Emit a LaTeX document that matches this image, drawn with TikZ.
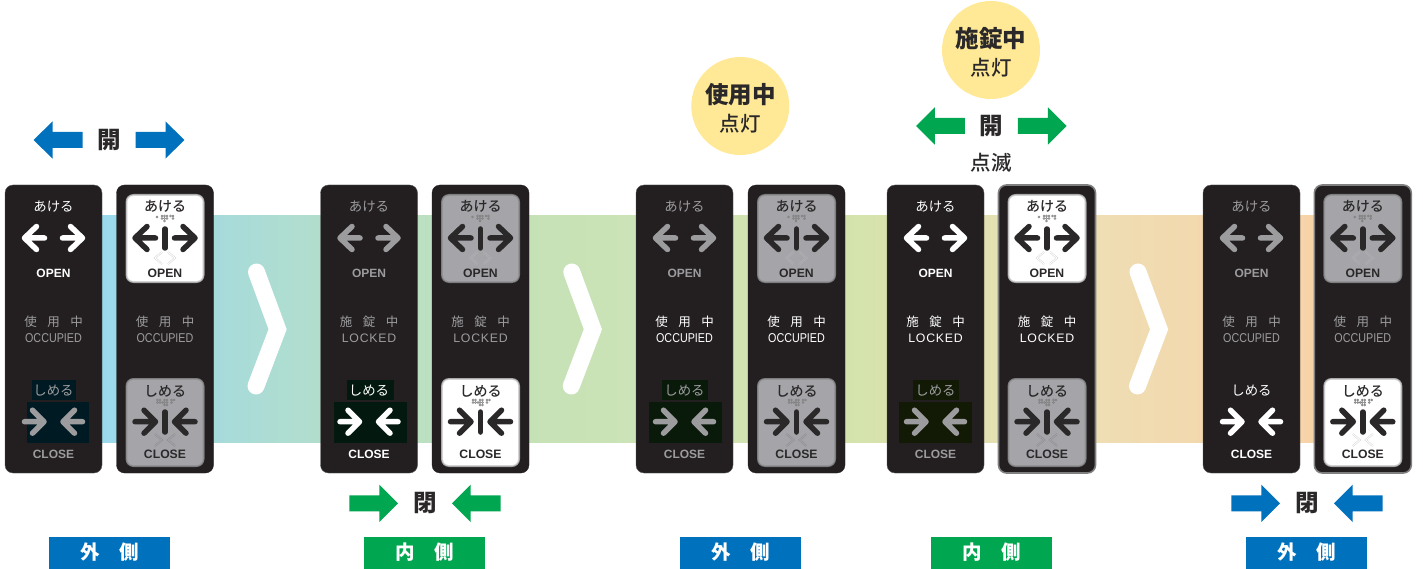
\documentclass[tikz,border=0pt]{standalone}
\usepackage{fontspec}
\setmainfont{Liberation Sans}
\newfontfamily\cjk{Noto Sans CJK JP}
\newfontfamily\cjkm{Noto Sans CJK JP Medium}
\newfontfamily\occfont[FakeStretch=0.84]{Liberation Sans}
\newfontfamily\lockfont[LetterSpace=6]{Liberation Sans}
\definecolor{panelc}{HTML}{231F20}
\definecolor{dimc}{HTML}{9C9C9E}
\definecolor{inkc}{HTML}{2B2829}
\definecolor{blueb}{HTML}{0071BC}
\definecolor{greenb}{HTML}{00A650}
\definecolor{yellowc}{HTML}{FFE997}
\definecolor{lit0}{HTML}{A0A0A0}\definecolor{lit1}{HTML}{BEBEBE}\definecolor{lit2}{HTML}{E0E0E0}\definecolor{lit3}{HTML}{FFFFFF}
\definecolor{dim0}{HTML}{77777A}\definecolor{dim1}{HTML}{8A8A8C}\definecolor{dim2}{HTML}{9A9A9D}\definecolor{dim3}{HTML}{A5A5A9}
\definecolor{chevlit}{HTML}{D2D2D2}\definecolor{chevdim}{HTML}{B6B6BA}
\definecolor{rectA}{HTML}{001A24}\definecolor{rectB}{HTML}{03190F}\definecolor{rectC}{HTML}{0A1A0A}\definecolor{rectD}{HTML}{121A05}
\definecolor{b0}{HTML}{9AD9EC}\definecolor{b1}{HTML}{B0DDCF}\definecolor{b2}{HTML}{C5E2B6}\definecolor{b3}{HTML}{CCE3B6}
\definecolor{b4}{HTML}{D4E3AC}\definecolor{b5}{HTML}{E2E0B2}\definecolor{b6}{HTML}{EFDDB3}\definecolor{b7}{HTML}{F7D3A8}
\pgfdeclarehorizontalshading{bandshade}{100bp}{color(0bp)=(b0);color(25bp)=(b0);color(33.17bp)=(b1);color(42.66bp)=(b2);color(47.2bp)=(b3);color(55.86bp)=(b4);color(61.42bp)=(b5);color(66.17bp)=(b6);color(75bp)=(b7);color(100bp)=(b7)}
\tikzset{
  txt/.style={inner sep=0pt,outer sep=0pt,anchor=center},
  jp/.style={txt,font=\cjk\fontsize{13.4}{13.4}\selectfont},
  jpb/.style={txt,font=\cjkm\fontsize{14}{14}\selectfont,text=inkc},
  lat/.style={txt,font=\bfseries\fontsize{12}{12}\selectfont},
  latb/.style={txt,font=\bfseries\fontsize{12.2}{12.2}\selectfont,text=inkc},
  midjpst/.style={txt,font=\cjk\fontsize{12.5}{12.5}\selectfont},
  panelst/.style={fill=panelc,rounded corners=8pt},
  sig/.style={line width=5.5pt,line cap=round,line join=round},
  badge/.style={txt,font=\cjk\bfseries\fontsize{19.5}{19.5}\selectfont,text=white},
  bigch/.style={draw=white,line width=17pt,line cap=round,line join=miter,miter limit=10},
  headtxt/.style={txt,font=\cjk\bfseries\fontsize{23.5}{23.5}\selectfont,text=inkc},
  subtxt/.style={txt,font=\cjkm\fontsize{20.5}{20.5}\selectfont,text=inkc},
  doortxt/.style={txt,font=\cjk\bfseries\fontsize{23.5}{23.5}\selectfont,text=inkc},
  braille/.style={draw=#1,line width=0.6pt},
  winchev/.style={double=#1,line width=0.45pt,double distance=0.9pt,line join=miter},
  plainedge/.style={draw=panelc,line width=0.3pt},
  greyedge/.style={draw=gray,line width=1.6pt},
}
\newcommand{\occtxt}{{\occfont\fontsize{12.8}{12.8}\selectfont OCCUPIED}}
\newcommand{\locktxt}{{\lockfont\fontsize{12.3}{12.3}\selectfont LOCKED}}
\newcommand{\usejp}{使\hspace{10.5pt}用\hspace{10.5pt}中}
\newcommand{\sejp}{施\hspace{10.5pt}錠\hspace{10.5pt}中}
% arrows for the plain panel, relative to centre 48.5
\newcommand{\openarrows}[1]{%
  \draw[sig,#1] (19.5,238)--(39.5,238) (31.5,226.5)--(19.5,238)--(31.5,249.5);
  \draw[sig,#1] (77.5,238)--(57.5,238) (65.5,226.5)--(77.5,238)--(65.5,249.5);}
\newcommand{\closearrows}[1]{%
  \draw[sig,#1] (19.5,421.7)--(39,421.7) (27.5,410.2)--(39,421.7)--(27.5,433.2);
  \draw[sig,#1] (77.5,421.7)--(58,421.7) (69.5,410.2)--(58,421.7)--(69.5,433.2);}
\newcommand{\windowbox}[3]{% state, top, bottom
  \foreach \n/\i in {0/0,1/0.7,2/1.4,3/2.1}{
    \fill[fill=#1\n,rounded corners={8pt-\i pt}] (9+\i,#2+\i) rectangle (88-\i,#3-\i);}}
\newcommand{\brailledots}[2]{\foreach \a/\b in {#2}{\draw[braille=#1] (\a,\b) circle (0.95pt);}}
\newcommand{\leftpanel}[8]{% name x openc midjp miden midc closec rects
 \begin{scope}[shift={(#2,0)}]
  \fill[panelst,draw=gray!60!panelc,line width=0.4pt] (0,185) rectangle (97,473);
  #8
  \node[jp,text=#3] (#1-aj) at (48.5,206.7) {あける};
  \openarrows{draw=#3}
  \node[lat,text=#3] (#1-open) at (48.5,273.3) {OPEN};
  \node[midjpst,text=#6] (#1-mj) at (48.5,321.7) {#4};
  \node[txt,text=#6] (#1-me) at (48.5,338.3) {#5};
  \node[jp,text=#7] (#1-sj) at (48.5,391) {しめる};
  \closearrows{draw=#7}
  \node[lat,text=#7] (#1-close) at (48.5,454.3) {CLOSE};
 \end{scope}}
\newcommand{\darkrects}[5]{%
  \fill[#1] (#2,380) rectangle (#3,400);
  \fill[#1] (#4,402) rectangle (#5,443);}
\newcommand{\rightpanel}[9]{% name x open-state midjp miden midc close-state close chevron colour edge style
 \begin{scope}[shift={(#2,0)}]
  \fill[panelst,#9] (0,185) rectangle (97,473);
  \windowbox{#3}{194}{283}
  \windowbox{#7}{378}{467}
  \node[jpb] (#1-aj) at (48.5,206.7) {あける};
  \brailledots{gray}{40.5/217,45.5/216,48/216,50.5/216,45.5/218.5,48/218.5,50.5/218.5,48/221,54/216,56.5/216,56.5/218.5}
  \draw[sig,draw=inkc] (18.5,238)--(39,238) (30.5,226.5)--(18.5,238)--(30.5,249.5);
  \draw[sig,draw=inkc] (78.5,238)--(58,238) (66.5,226.5)--(78.5,238)--(66.5,249.5);
  \draw[sig,draw=inkc] (48.5,229)--(48.5,248);
  \draw[winchev=#33,draw=chev#3] (45.5,252)--(38.5,258)--(45.5,264);
  \draw[winchev=#33,draw=chev#3] (51.5,252)--(58.5,258)--(51.5,264);
  \node[latb] (#1-open) at (48.5,273.3) {OPEN};
  \node[midjpst,text=#6] (#1-mj) at (48.5,321.7) {#4};
  \node[txt,text=#6] (#1-me) at (48.5,338.3) {#5};
  \node[jpb] (#1-sj) at (48.5,391) {しめる};
  \brailledots{gray}{41/400,43.5/400,41/402.5,43.5/402.5,46/402.5,48/400,50.5/400,48/402.5,50.5/402.5,48/405,50.5/405,55/400,57.5/400,55/402.5}
  \draw[sig,draw=inkc] (18.5,421.7)--(39,421.7) (27.5,410.2)--(39,421.7)--(27.5,433.2);
  \draw[sig,draw=inkc] (78.5,421.7)--(58,421.7) (69.5,410.2)--(58,421.7)--(69.5,433.2);
  \draw[sig,draw=inkc] (48.5,412)--(48.5,432);
  \draw[winchev=#73,draw=#8] (38.5,434)--(45.5,440)--(38.5,446);
  \draw[winchev=#73,draw=#8] (58.5,434)--(51.5,440)--(58.5,446);
  \node[latb] (#1-close) at (48.5,454.3) {CLOSE};
 \end{scope}}
\newcommand{\outarrows}[3]{% colour cx y (arrows pointing away)
 \begin{scope}[shift={(#2,#3)}]
  \fill[#1] (-75.3,0)--(-56.5,-18.7)--(-56.5,-8)--(-26.5,-8)--(-26.5,8)--(-56.5,8)--(-56.5,18.7)--cycle;
  \fill[#1] (75.3,0)--(56.5,-18.7)--(56.5,-8)--(26.5,-8)--(26.5,8)--(56.5,8)--(56.5,18.7)--cycle;
 \end{scope}}
\newcommand{\inarrows}[3]{% colour cx y (arrows pointing inward)
 \begin{scope}[shift={(#2,#3)}]
  \fill[#1] (-27,0)--(-45.7,-18.7)--(-45.7,-8)--(-75.7,-8)--(-75.7,8)--(-45.7,8)--(-45.7,18.7)--cycle;
  \fill[#1] (27,0)--(45.7,-18.7)--(45.7,-8)--(75.7,-8)--(75.7,8)--(45.7,8)--(45.7,18.7)--cycle;
 \end{scope}}
\newcommand{\sidebadge}[4]{% name x colour text
  \fill[#3] (#2,537) rectangle (#2+121,569);
  \node[badge] (#1) at (#2+60.5,552.5) {#4};}
\newcommand{\bigchev}[1]{\draw[bigch,shift={(#1,0)}] (256.5,272)--(277.6,329.3)--(256,386);}
\begin{document}
\begin{tikzpicture}[x=1pt,y=-1pt]
\useasboundingbox (0,0) rectangle (1423,569);
\fill[white] (0,0) rectangle (1423,569);
\shade[shading=bandshade] (102,216) rectangle (1314,442);
\bigchev{0}\bigchev{315.3}\bigchev{881.5}
% door sets
\leftpanel{a}{5}{white}{\usejp}{\occtxt}{dimc}{dimc}{\darkrects{rectA}{27}{71}{22}{84}}
\rightpanel{b}{116.5}{lit}{\usejp}{\occtxt}{dimc}{dim}{dim0!60!dim3}{plainedge}
\leftpanel{c}{320.5}{dimc}{\sejp}{\locktxt}{dimc}{white}{\darkrects{rectB}{26.5}{73.5}{13.5}{86.5}}
\rightpanel{d}{432}{dim}{\sejp}{\locktxt}{dimc}{lit}{white}{plainedge}
\leftpanel{e}{636}{dimc}{\usejp}{\occtxt}{white}{dimc}{\darkrects{rectC}{26}{72}{13}{86}}
\rightpanel{f}{748}{dim}{\usejp}{\occtxt}{white}{dim}{dim0!60!dim3}{plainedge}
\leftpanel{g}{887}{white}{\sejp}{\locktxt}{white}{dimc}{\darkrects{rectD}{26}{72}{12}{85}}
\rightpanel{h}{998.5}{lit}{\sejp}{\locktxt}{white}{dim}{dim0!60!dim3}{greyedge}
\leftpanel{i}{1203}{dimc}{\usejp}{\occtxt}{dimc}{white}{}
\rightpanel{j}{1314.3}{dim}{\usejp}{\occtxt}{dimc}{lit}{chevlit}{greyedge}
% top marks
\outarrows{blueb}{109}{140}
\node[doortxt] (kai1) at (109,140) {開};
\fill[yellowc] (740.3,106) circle (49);
\node[headtxt] (h1) at (740.3,95) {使用中};
\node[subtxt] (s1) at (740.3,124) {点灯};
\fill[yellowc] (991,50) circle (49);
\node[headtxt] (h2) at (991,38.5) {施錠中};
\node[subtxt] (s2) at (991,68) {点灯};
\outarrows{greenb}{991.3}{126}
\node[doortxt] (kai2) at (991.3,126) {開};
\node[subtxt] (blink) at (991,162.7) {点滅};
% bottom marks
\inarrows{greenb}{425}{503.3}
\node[doortxt] (hei1) at (425,503.3) {閉};
\inarrows{blueb}{1307}{503.3}
\node[doortxt] (hei2) at (1307,503.3) {閉};
\sidebadge{o1}{49}{blueb}{外\hspace{20pt}側}
\sidebadge{o2}{364}{greenb}{内\hspace{20pt}側}
\sidebadge{o3}{680}{blueb}{外\hspace{20pt}側}
\sidebadge{o4}{931}{greenb}{内\hspace{20pt}側}
\sidebadge{o5}{1246}{blueb}{外\hspace{20pt}側}
\end{tikzpicture}
\end{document}
